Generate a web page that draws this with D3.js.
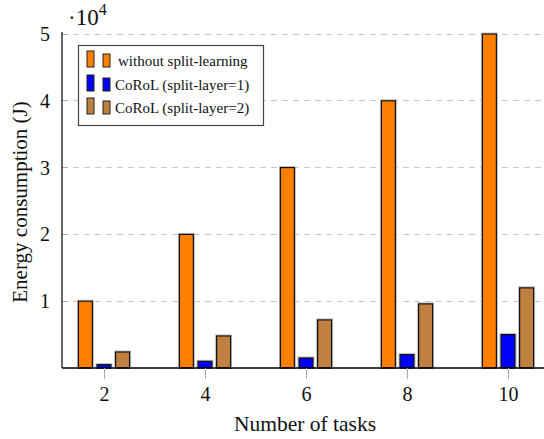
<!DOCTYPE html>
<html>
<head>
<meta charset="utf-8">
<script src="https://cdn.jsdelivr.net/npm/d3@7"></script>
<style>
  html, body { margin: 0; padding: 0; background: #fff; }
  svg { display: block; }
  svg text { font-family: "Liberation Serif", "Times New Roman", Times, "DejaVu Serif", serif !important; }
</style>
</head>
<body>
<svg id="chart" width="544" height="439"></svg>
<script>
// ---- data ----
const tasks = [2, 4, 6, 8, 10];
const seriesNames = ["without split-learning", "CoRoL (split-layer=1)", "CoRoL (split-layer=2)"];
const withoutSplit = [10000, 20000, 30000, 40000, 50000];
const splitLayer1 = [500, 1000, 1500, 2000, 5000];
const splitLayer2 = [2400, 4800, 7200, 9600, 12000];
const colors = ["#ff8000", "#0000ff", "#bf8040"];
const yTicks = [10000, 20000, 30000, 40000, 50000];

const seriesValues = [withoutSplit, splitLayer1, splitLayer2];

// ---- layout ----
const svg = d3.select("#chart");
const pLeft = 62, pRight = 544, pTop = 34, pBottom = 368;

const x = d3.scaleLinear().domain([2, 10]).range([104, 508]);
const y = d3.scaleLinear().domain([0, 50000]).range([pBottom, pTop]);
const inner = d3.scaleBand().domain(d3.range(seriesNames.length))
  .range([-27.9, 27.9]).paddingInner(0.25).paddingOuter(0.125);

// grid lines
svg.append("g").selectAll("line").data(yTicks).join("line")
  .attr("x1", pLeft).attr("x2", pRight)
  .attr("y1", d => y(d)).attr("y2", d => y(d))
  .attr("stroke", "#c8c8c8").attr("stroke-width", 1)
  .attr("stroke-dasharray", "6,5")
  .attr("shape-rendering", "crispEdges");

// y ticks (inward, gray)
svg.append("g").selectAll("line").data(yTicks).join("line")
  .attr("x1", pLeft).attr("x2", pLeft + 6)
  .attr("y1", d => y(d)).attr("y2", d => y(d))
  .attr("stroke", "#aaa").attr("shape-rendering", "crispEdges");

// bars
const groups = svg.append("g").selectAll("g").data(seriesValues).join("g");
groups.each(function(vals, si) {
  const g = d3.select(this);
  g.selectAll("rect.sh").data(vals).join("rect").attr("class", "sh")
    .attr("x", (d, i) => x(tasks[i]) + inner(si) - 1)
    .attr("y", d => y(d) - 1)
    .attr("width", inner.bandwidth() + 2)
    .attr("height", d => pBottom - y(d) + 1)
    .attr("fill", "none").attr("stroke", "#bbb").attr("stroke-width", 1);
  g.selectAll("rect.bar").data(vals).join("rect").attr("class", "bar")
    .attr("x", (d, i) => x(tasks[i]) + inner(si))
    .attr("y", d => y(d))
    .attr("width", inner.bandwidth())
    .attr("height", d => pBottom - y(d))
    .attr("fill", colors[si]).attr("stroke", "#111").attr("stroke-width", 1.2);
});

// axis lines
svg.append("line").attr("x1", pLeft).attr("x2", pLeft).attr("y1", pTop - 2).attr("y2", pBottom)
  .attr("stroke", "#000").attr("stroke-width", 1.2);
svg.append("line").attr("x1", pLeft).attr("x2", pRight).attr("y1", pBottom).attr("y2", pBottom)
  .attr("stroke", "#000").attr("stroke-width", 1.5);

// x axis ticks and labels
const xAxis = d3.axisBottom(x).tickValues(tasks).tickSize(11).tickPadding(8);
const xg = svg.append("g").attr("transform", `translate(0,${pBottom})`).call(xAxis);
xg.select(".domain").remove();
xg.selectAll(".tick line").attr("stroke", "#aaa");
xg.selectAll(".tick text").attr("font-size", 20).attr("fill", "#111");

// y axis labels
const yAxis = d3.axisLeft(y).tickValues(yTicks).tickFormat(d => d / 10000).tickSize(0).tickPadding(12);
const yg = svg.append("g").attr("transform", `translate(${pLeft},0)`).call(yAxis);
yg.select(".domain").remove();
yg.selectAll(".tick text").attr("font-size", 20).attr("fill", "#111");

// scale factor label
const sf = svg.append("text").attr("x", 68).attr("y", 25).attr("font-size", 23).attr("fill", "#111");
sf.append("tspan").text("·10");
sf.append("tspan").attr("dy", -10).attr("font-size", 16).text("4");

// axis titles
svg.append("text").attr("x", 305).attr("y", 431).attr("text-anchor", "middle")
  .attr("font-size", 21.5).attr("fill", "#111").text("Number of tasks");
svg.append("text").attr("transform", "translate(27,202) rotate(-90)").attr("text-anchor", "middle")
  .attr("font-size", 21).attr("fill", "#111").text("Energy consumption (J)");

// legend
const lg = svg.append("g");
lg.append("rect").attr("x", 78.5).attr("y", 45.5).attr("width", 185).attr("height", 80)
  .attr("fill", "#fff").attr("stroke", "#444").attr("stroke-width", 1.2);
const rowY = [67, 91, 114];
seriesNames.forEach((name, i) => {
  const by = rowY[i];
  lg.append("rect").attr("x", 87).attr("y", by - 16).attr("width", 7).attr("height", 16)
    .attr("fill", colors[i]).attr("stroke", "#222");
  lg.append("rect").attr("x", 103).attr("y", by - 13).attr("width", 7).attr("height", 13)
    .attr("fill", colors[i]).attr("stroke", "#222");
  lg.append("text").attr("x", i === 0 ? 118 : 115).attr("y", by - 1)
    .attr("font-size", 15).attr("fill", "#111").text(name);
});
</script>
</body>
</html>
